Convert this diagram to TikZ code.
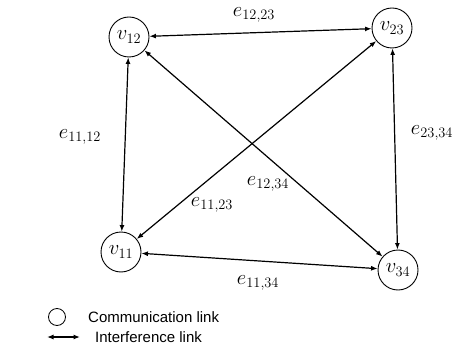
\documentclass[tikz,border=0pt]{standalone}
\usepackage{fontspec}
\setmainfont{Liberation Sans}
\usetikzlibrary{arrows.meta}
\tikzset{
  vertex/.style={circle, draw, line width=0.9pt, minimum size=40pt, inner sep=0pt,
                 font=\fontsize{21}{24}\selectfont},
  link/.style={line width=1.2pt, {Latex[length=6.5pt,width=5pt]}-{Latex[length=6.5pt,width=5pt]}},
  elabel/.style={font=\fontsize{21}{24}\selectfont, inner sep=1pt},
  legendtext/.style={font=\fontsize{15}{17}\selectfont, anchor=west, inner sep=0pt}
}
\begin{document}
\begin{tikzpicture}[x=1pt,y=-1pt]
  \useasboundingbox (0,0) rectangle (454,347);

  % users
  \node[vertex] (v12) at (129,37)  {$v_{12}$};
  \node[vertex] (v23) at (392,28)  {$v_{23}$};
  \node[vertex] (v11) at (121,252) {$v_{11}$};
  \node[vertex] (v34) at (398,270) {$v_{34}$};

  % interference links
  \draw[link] (v12) -- (v23);
  \draw[link] (v12) -- (v11);
  \draw[link] (v23) -- (v34);
  \draw[link] (v11) -- (v34);
  \draw[link] (v12) -- (v34);
  \draw[link] (v23) -- (v11);

  % link labels
  \node[elabel] (l1223) at (254,15)  {$e_{12,23}$};
  \node[elabel] (l1112) at (80,137)  {$e_{11,12}$};
  \node[elabel] (l2334) at (432,133) {$e_{23,34}$};
  \node[elabel] (l1234) at (268,184) {$e_{12,34}$};
  \node[elabel] (l1123) at (212,205) {$e_{11,23}$};
  \node[elabel] (l1134) at (258,283) {$e_{11,34}$};

  % legend
  \node[circle, draw, line width=0.8pt, minimum size=17pt, inner sep=0pt] (lgc) at (57,317) {};
  \node[legendtext] (lgct) at (88,317) {Communication link};
  \coordinate (lga) at (47,337);
  \coordinate (lgb) at (80,337);
  \draw[link] (lga) -- (lgb);
  \node[legendtext] (lgat) at (95,337) {Interference link};
\end{tikzpicture}
\end{document}
